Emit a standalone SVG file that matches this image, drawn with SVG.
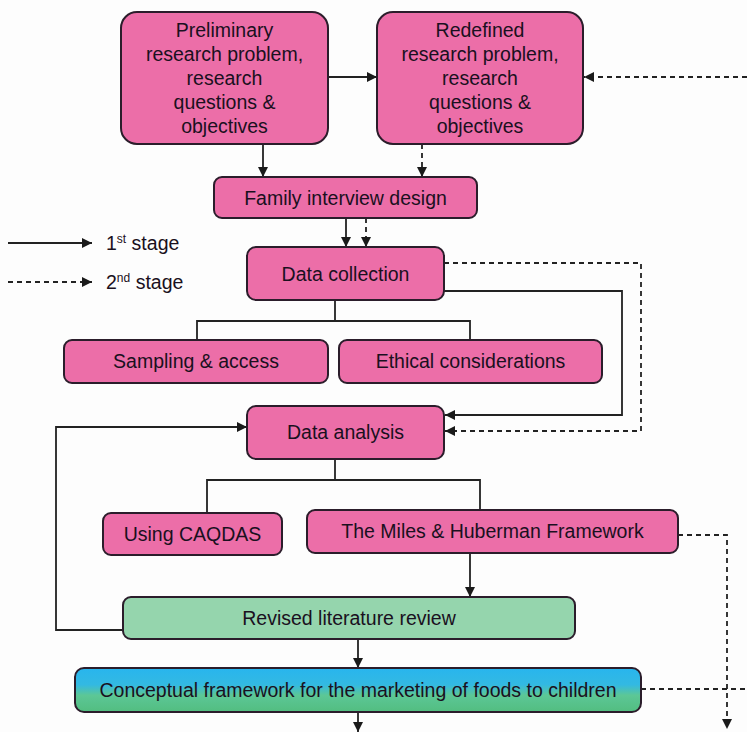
<svg xmlns="http://www.w3.org/2000/svg" width="747" height="732" viewBox="0 0 747 732">
<defs>
<style>
.box{fill:#ec6ea8;stroke:#2b1d2b;stroke-width:2}
.green{fill:#95d5ad;stroke:#2b1d2b;stroke-width:2}
.t{font-family:"Liberation Sans",Arial,sans-serif;font-size:19.5px;fill:#1a1020;text-anchor:middle}
.ln{fill:none;stroke:#222;stroke-width:1.8}
.dash{fill:none;stroke:#222;stroke-width:1.8;stroke-dasharray:5,4}
</style>
<marker id="ah" viewBox="0 0 10 10" refX="10" refY="5" markerWidth="10" markerHeight="10" markerUnits="userSpaceOnUse" orient="auto">
<path d="M0,0 L10,5 L0,10 z" fill="#1a1a1a"/>
</marker>
<linearGradient id="cg" x1="0" y1="0" x2="0" y2="1">
<stop offset="0" stop-color="#28b5ee"/>
<stop offset="0.38" stop-color="#33b9e2"/>
<stop offset="0.62" stop-color="#5cc796"/>
<stop offset="1" stop-color="#52bd80"/>
</linearGradient>
</defs>
<rect width="747" height="732" fill="#fdfdfd"/>

<g id="connectors">
<line class="ln" x1="328" y1="77" x2="377" y2="77" marker-end="url(#ah)"/>
<line class="dash" x1="747" y1="77" x2="584" y2="77" marker-end="url(#ah)"/>
<line class="ln" x1="263" y1="144" x2="263" y2="177" marker-end="url(#ah)"/>
<line class="dash" x1="422" y1="144" x2="422" y2="177" marker-end="url(#ah)"/>
<line class="ln" x1="346" y1="218" x2="346" y2="247" marker-end="url(#ah)"/>
<line class="dash" x1="366" y1="218" x2="366" y2="247" marker-end="url(#ah)"/>
<polyline class="ln" points="335,300 335,321"/>
<polyline class="ln" points="197,340 197,321 470,321 470,340"/>
<polyline class="ln" points="444,291 622,291 622,415 445,415" marker-end="url(#ah)"/>
<polyline class="dash" points="444,263 641,263 641,431 445,431" marker-end="url(#ah)"/>
<polyline class="ln" points="335,459 335,480"/>
<polyline class="ln" points="207,513 207,480 480,480 480,510"/>
<line class="ln" x1="470" y1="553" x2="470" y2="597" marker-end="url(#ah)"/>
<polyline class="ln" points="123,630 56,630 56,427 247,427" marker-end="url(#ah)"/>
<line class="ln" x1="358" y1="639" x2="358" y2="668" marker-end="url(#ah)"/>
<line class="ln" x1="358" y1="712" x2="358" y2="732" marker-end="url(#ah)"/>
<polyline class="dash" points="678,535 727,535 727,729" marker-end="url(#ah)"/>
<line class="dash" x1="641" y1="689" x2="747" y2="689"/>
<line class="ln" x1="8" y1="243" x2="92" y2="243" marker-end="url(#ah)"/>
<line class="dash" x1="8" y1="282" x2="92" y2="282" marker-end="url(#ah)"/>
</g>

<g id="legend">
<text class="t" x="106" y="250" style="text-anchor:start">1<tspan font-size="12" dy="-7">st</tspan><tspan dy="7"> stage</tspan></text>
<text class="t" x="106" y="289" style="text-anchor:start">2<tspan font-size="12" dy="-7">nd</tspan><tspan dy="7"> stage</tspan></text>
</g>

<g id="preliminary">
<rect class="box" x="121" y="12" width="207" height="132" rx="16"/>
<text class="t" x="224.5" y="37">Preliminary</text>
<text class="t" x="224.5" y="61">research problem,</text>
<text class="t" x="224.5" y="85">research</text>
<text class="t" x="224.5" y="109">questions &amp;</text>
<text class="t" x="224.5" y="133">objectives</text>
</g>

<g id="redefined">
<rect class="box" x="377" y="12" width="206" height="132" rx="16"/>
<text class="t" x="480" y="37">Redefined</text>
<text class="t" x="480" y="61">research problem,</text>
<text class="t" x="480" y="85">research</text>
<text class="t" x="480" y="109">questions &amp;</text>
<text class="t" x="480" y="133">objectives</text>
</g>

<g id="family">
<rect class="box" x="214" y="177" width="263" height="41" rx="8"/>
<text class="t" x="345.5" y="205">Family interview design</text>
</g>

<g id="collection">
<rect class="box" x="247" y="247" width="197" height="53" rx="9"/>
<text class="t" x="345.5" y="281">Data collection</text>
</g>

<g id="sampling">
<rect class="box" x="64" y="340" width="264" height="43" rx="8"/>
<text class="t" x="196" y="368">Sampling &amp; access</text>
</g>

<g id="ethical">
<rect class="box" x="339" y="340" width="263" height="43" rx="8"/>
<text class="t" x="470.5" y="368">Ethical considerations</text>
</g>

<g id="analysis">
<rect class="box" x="247" y="406" width="197" height="53" rx="9"/>
<text class="t" x="345.5" y="439">Data analysis</text>
</g>

<g id="caqdas">
<rect class="box" x="103" y="513" width="179" height="42" rx="8"/>
<text class="t" x="192.5" y="541">Using CAQDAS</text>
</g>

<g id="miles">
<rect class="box" x="307" y="510" width="371" height="43" rx="8"/>
<text class="t" x="492.5" y="538">The Miles &amp; Huberman Framework</text>
</g>

<g id="revised">
<rect class="green" x="123" y="597" width="452" height="42" rx="8"/>
<text class="t" x="349" y="625">Revised literature review</text>
</g>

<g id="conceptual">
<rect x="75" y="668" width="566" height="44" rx="9" fill="url(#cg)" stroke="#2b1d2b" stroke-width="2"/>
<text class="t" x="358" y="697">Conceptual framework for the marketing of foods to children</text>
</g>
</svg>
